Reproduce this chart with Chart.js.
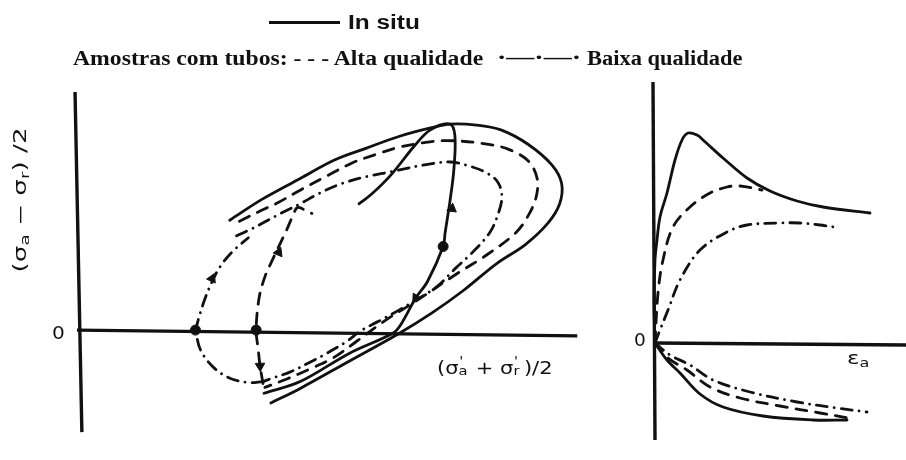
<!DOCTYPE html>
<html>
<head>
<meta charset="utf-8">
<title>Trajetórias de tensões</title>
<script src="https://cdn.jsdelivr.net/npm/chart.js@4.4.0/dist/chart.umd.min.js"></script>
<style>
    html, body { margin: 0; padding: 0; background: #fff; }
    #page { position: relative; width: 906px; height: 460px; overflow: hidden; background: #fff; }
    #page canvas { position: absolute; top: 0; }
    #pathChart { left: 0; }
    #strainChart { left: 620px; }
    .txt { position: absolute; white-space: nowrap; color: #111; line-height: 1; transform-origin: 0 50%; }
    .head { font-family: "Liberation Serif", serif; font-weight: bold; font-size: 20px; }
    .head.sans { font-family: "Liberation Sans", sans-serif; }
    .lab { font-family: "DejaVu Sans", sans-serif; font-size: 17px; }
    .lab sub { font-size: 70%; vertical-align: -0.25em; }
    .rot { transform-origin: 50% 50%; }
    .si { display: inline-block; position: relative; width: 0.5em; height: 0.9em; }
    .si .p { position: absolute; left: 0.05em; top: -0.25em; font-size: 70%; }
    .si .s { position: absolute; left: 0; bottom: -0.3em; font-size: 70%; }
    .sample { position: absolute; height: 0; border-top: 3px solid #111; }
</style>
</head>
<body>
<div id="page">
    <canvas id="pathChart" width="620" height="460"></canvas>
    <canvas id="strainChart" width="286" height="460"></canvas>

    <div class="sample" style="left:269px; top:21px; width:71px;"></div>
    <span class="txt head sans" data-x="348" data-y="22" data-w="72">In situ</span>
    <span class="txt head" data-x="73" data-y="58" data-w="410">Amostras com tubos: - - - Alta qualidade</span>
    <span class="txt head" data-x="497" data-y="57" data-w="84">·—·—·</span>
    <span class="txt head" data-x="587" data-y="58" data-w="155">Baixa qualidade</span>

    <span class="txt lab rot" data-cx="22" data-cy="200" data-w="145">(σ<sub>a</sub> − σ<sub>r</sub>) /2</span>
    <span class="txt lab" data-x="52" data-y="333" data-w="13">0</span>
    <span class="txt lab" data-x="437" data-y="368" data-w="115">(σ<span class="si"><span class="p">'</span><span class="s">a</span></span> + σ<span class="si"><span class="p">'</span><span class="s">r</span></span>)/2</span>

    <span class="txt lab" data-x="634" data-y="340" data-w="12">0</span>
    <span class="txt lab" data-x="847" data-y="360" data-w="23">ε<sub>a</sub></span>
</div>

<script>
// ---- stress paths, p' horizontal and q vertical (left panel) ----
const pathAxisX = [[0, 0.2], [51.1, -0.4]];
const pathAxisY = [[-0.2, 24.7], [0.5, -10.3]];

// in situ envelope
const inSituOuter = [
    [15.6, 11.5], [18.8, 13.6], [22.8, 15.8], [26.3, 17.7], [29.5, 18.9], [32.8, 20.1],
    [36.1, 21.0], [38.1, 21.4], [40.8, 21.3], [43.3, 20.8], [46.1, 19.3], [48.5, 17.2],
    [49.5, 15.3], [49.3, 13.2], [48.1, 11.2], [45.8, 9.0], [42.8, 7.0], [39.5, 4.3],
    [36.3, 2.0], [32.8, -0.2], [27.8, -3.0], [22.8, -5.8], [19.8, -7.3]
];
// in situ loading / unloading path through the peak
const inSituPath = [
    [28.8, 13.2], [30.1, 14.2], [32.1, 16.2], [34.5, 19.2], [36.1, 20.8], [38.1, 21.4],
    [38.6, 20.2], [38.5, 16.8], [38.1, 13.5], [37.6, 10.2], [37.4, 8.8], [35.8, 5.2],
    [34.6, 3.5], [33.1, 0.8], [32.3, -0.1], [27.8, -2.2], [22.8, -5.1], [19.1, -6.3]
];

// high quality tube samples
const altaLoop = [
    [16.6, 11.4], [18.8, 12.5], [20.5, 13.3], [22.8, 14.6], [25.6, 16.1], [28.1, 17.4],
    [30.6, 18.3], [32.8, 19.0], [35.5, 19.5], [37.8, 19.7], [41.5, 19.4], [44.1, 18.8],
    [46.1, 17.6], [47.0, 15.8], [46.9, 13.9], [46.1, 12.0], [44.8, 10.2], [41.8, 7.9],
    [38.8, 6.0], [34.5, 3.1], [31.5, 1.2], [28.5, -1.0], [26.1, -2.7], [23.8, -3.8],
    [21.5, -4.8], [19.2, -5.7]
];
const altaBranch = [
    [19.0, -5.3], [18.7, -3.5], [18.5, -1.7], [18.3, 0.2], [18.6, 3.5], [19.2, 5.7],
    [20.0, 7.5], [20.8, 9.2], [21.5, 10.7], [22.1, 12.1], [22.5, 12.8], [23.2, 12.6], [24.0, 12.2]
];

// low quality tube samples
const baixaLoop = [
    [16.3, 9.9], [17.8, 10.6], [19.3, 11.4], [20.8, 12.2], [22.8, 13.2], [24.8, 14.3],
    [27.1, 15.3], [29.6, 16.0], [32.1, 16.5], [35.5, 17.2], [38.1, 17.5], [40.0, 17.1],
    [41.8, 16.4], [43.0, 15.4], [43.4, 13.9], [43.0, 12.1], [42.2, 10.3], [40.5, 8.3],
    [38.6, 6.5], [36.8, 4.7], [34.8, 3.4], [32.8, 2.2], [30.8, 1.1], [29.1, 0.2],
    [27.5, -1.0], [25.5, -2.2], [23.8, -3.1], [21.8, -4.1], [19.8, -4.8], [19.0, -5.1]
];
const baixaLower = [[19.0, -5.1], [17.5, -5.2], [15.5, -4.7], [13.8, -3.5], [12.6, -1.8], [12.1, 0.2]];
const baixaUpper = [[12.1, 0.2], [12.6, 2.0], [13.1, 3.5], [13.8, 5.2], [14.6, 6.7], [15.8, 8.2], [17.5, 9.7]];

const pathDots = [[37.4, 8.8], [18.3, 0.2], [12.1, 0.2]];
const pathArrows = [[38.3, 12.7], [34.6, 3.5], [20.6, 8.2], [18.7, -3.5], [13.8, 5.5]];
const arrowAngles = [8, 213, 23, 178, 25];

// ---- stress / pore pressure against axial strain (right panel) ----
const strainAxisX = [[0, 0], [25.1, -0.2]];
const strainAxisY = [[-0.2, 26.1], [0, -9.7]];

const devInSitu = [
    [0, 0], [-0.1, 4.3], [0, 8.3], [0.2, 10.3], [0.5, 12.6], [1.2, 15.0], [2.0, 18.3],
    [2.7, 20.3], [3.3, 21.0], [4.2, 20.8], [4.8, 20.3], [6.8, 18.5], [9.2, 16.5],
    [11.5, 15.2], [14.2, 14.2], [16.8, 13.6], [21.5, 13.0]
];
const devAlta = [[0, 0], [0.3, 5.0], [0.8, 8.3], [1.8, 11.6], [3.5, 13.6], [5.5, 15.0], [7.2, 15.6], [8.5, 15.7], [10.7, 15.3]];
const devBaixa = [[0, 0], [0.5, 1.3], [1.3, 3.3], [2.5, 6.3], [4.5, 9.3], [7.2, 11.1], [9.2, 11.8], [12.5, 12.0], [14.5, 12.0], [16.5, 11.8], [17.9, 11.6]];

const poreInSitu = [[0, 0], [1.2, -1.7], [2.5, -3.0], [4.5, -5.1], [6.8, -6.4], [10.8, -7.3], [15.8, -7.7], [19.2, -7.7]];
const poreAlta = [[0, 0], [1.3, -1.5], [3.2, -2.7], [5.5, -4.4], [8.5, -5.5], [12.5, -6.3], [16.5, -7.0], [19.3, -7.5]];
const poreBaixa = [[0, 0], [1.5, -1.2], [3.5, -2.2], [5.8, -3.7], [9.5, -4.9], [14.2, -5.9], [18.2, -6.5], [21.2, -6.9]];

const ink = '#111';
const DASHED = [11, 9];
const DASH_DOT = [11, 7, 0.1, 7];

function toXY(points) {
    return points.map(([x, y]) => ({ x, y }));
}

function curve(points, dash, width) {
    return {
        data: toXY(points),
        showLine: true,
        borderColor: ink,
        borderWidth: width || 2.8,
        borderDash: dash || [],
        borderCapStyle: 'round',
        borderJoinStyle: 'round',
        tension: 0.35,
        pointRadius: 0,
        fill: false
    };
}

function axisLine(points) {
    const ds = curve(points, [], 3.4);
    ds.tension = 0;
    ds.borderCapStyle = 'butt';
    return ds;
}

function markers(points, style, radius, rotation) {
    return {
        data: toXY(points),
        showLine: false,
        pointStyle: style,
        pointRadius: radius,
        pointRotation: rotation || 0,
        pointBackgroundColor: ink,
        pointBorderColor: ink,
        pointBorderWidth: 1
    };
}

// canvas is mapped so one unit is 10px; hidden scales fill the whole canvas
function options(xMin, xMax, yMin, yMax) {
    return {
        responsive: false,
        animation: false,
        events: [],
        layout: { padding: 0 },
        plugins: { legend: { display: false }, tooltip: { enabled: false } },
        scales: {
            x: { type: 'linear', display: false, min: xMin, max: xMax },
            y: { type: 'linear', display: false, min: yMin, max: yMax }
        }
    };
}

new Chart(document.getElementById('pathChart'), {
    type: 'scatter',
    data: {
        datasets: [
            axisLine(pathAxisX),
            axisLine(pathAxisY),
            curve(inSituOuter),
            curve(inSituPath),
            curve(altaLoop, DASHED),
            curve(altaBranch, DASHED),
            curve(baixaLoop, DASH_DOT),
            curve(baixaLower, DASH_DOT),
            curve(baixaUpper, DASH_DOT),
            markers(pathDots, 'circle', 5),
            markers(pathArrows, 'triangle', 5.5, arrowAngles)
        ]
    },
    options: options(-7.2, 54.8, -12.5, 33.5)
});

new Chart(document.getElementById('strainChart'), {
    type: 'scatter',
    data: {
        datasets: [
            axisLine(strainAxisX),
            axisLine(strainAxisY),
            curve(devInSitu),
            curve(devAlta, DASHED),
            curve(devBaixa, DASH_DOT),
            curve(poreInSitu),
            curve(poreAlta, DASHED),
            curve(poreBaixa, DASH_DOT)
        ]
    },
    options: options(-3.5, 25.1, -11.7, 34.3)
});

// place the labels and squeeze each one to its width
document.querySelectorAll('.txt').forEach(el => {
    const k = parseFloat(el.dataset.w) / el.offsetWidth;
    if (el.classList.contains('rot')) {
        el.style.left = (parseFloat(el.dataset.cx) - el.offsetWidth / 2) + 'px';
        el.style.top = (parseFloat(el.dataset.cy) - el.offsetHeight / 2) + 'px';
        el.style.transform = 'rotate(-90deg) scaleX(' + k.toFixed(3) + ')';
    } else {
        el.style.left = el.dataset.x + 'px';
        el.style.top = (parseFloat(el.dataset.y) - el.offsetHeight / 2) + 'px';
        el.style.transform = 'scaleX(' + k.toFixed(3) + ')';
    }
});
</script>
</body>
</html>
